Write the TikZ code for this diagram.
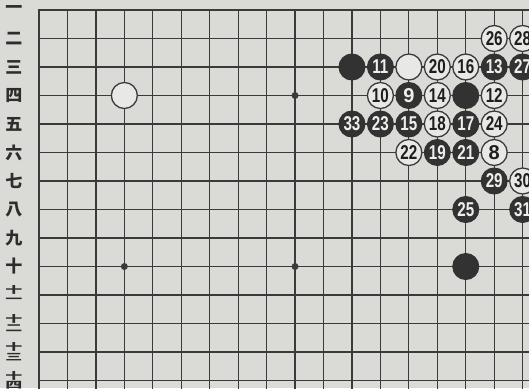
\documentclass[tikz,border=0pt]{standalone}
\usepackage{fontspec}
\usepackage{graphicx}
\setmainfont{Liberation Sans}
\newfontfamily\cjk{Noto Sans CJK JP}
\definecolor{paper}{RGB}{218,218,215}
\definecolor{gridc}{RGB}{58,58,58}
\definecolor{stoneblack}{RGB}{50,50,50}
\definecolor{stonewhite}{RGB}{232,232,230}
\definecolor{stonetext}{RGB}{238,238,236}
\definecolor{numdark}{RGB}{30,30,30}
\definecolor{labc}{RGB}{45,45,45}
\newcommand{\tw}[1]{\scalebox{0.76}[1]{#1}}
\newcommand{\sq}[1]{\scalebox{1}[0.55]{#1}}
\tikzset{
  gridline/.style={draw=gridc,line width=1.25pt},
  borderline/.style={draw=gridc,line width=2.6pt,line cap=rect},
  stonebase/.style={circle,inner sep=0pt,minimum size=26pt,font=\bfseries\fontsize{20}{20}\selectfont},
  bstone/.style={stonebase,fill=stoneblack,draw=stoneblack,line width=1pt,text=stonetext},
  wstone/.style={stonebase,fill=stonewhite,draw=gridc,line width=1.3pt,text=numdark},
  hoshi/.style={circle,fill=gridc,inner sep=0pt,minimum size=7pt},
  rowlab/.style={font=\cjk\bfseries\fontsize{17}{17}\selectfont,text=labc,inner sep=0pt},
}
\begin{document}
\begin{tikzpicture}[x=1pt,y=-1pt]
\path[use as bounding box,fill=paper] (0,0) rectangle (529,388);
\clip (0,0) rectangle (529,388);
% grid: column c at x = 39 + 28.45 c, row r at y = 10 + 28.5 r
\foreach \i in {0,...,18}
  \draw[gridline] ({39+28.45*\i},10) -- ({39+28.45*\i},400);
\foreach \j in {0,...,14}
  \draw[gridline] (39,{10+28.5*\j}) -- (540,{10+28.5*\j});
\draw[borderline] (39,400) -- (39,10) -- (540,10);
\begin{scope}[shift={(39,10)},x=28.45pt,y=-28.5pt]
% star points
\node[hoshi] (h1) at (3,3) {};
\node[hoshi] (h2) at (9,3) {};
\node[hoshi] (h3) at (3,9) {};
\node[hoshi] (h4) at (9,9) {};
% row labels
\foreach \r/\t in {0/一,1/二,2/三,3/四,4/五,5/六,6/七,7/八,8/九,9/十}
  \node[rowlab] (lab\r) at (-0.879,\r) {\t};
\foreach \r/\t in {10/一,11/二,12/三,13/四}{
  \node[rowlab] (labu\r) at (-0.879,\r-0.175) {\sq{十}};
  \node[rowlab] (labl\r) at (-0.879,\r+0.175) {\sq{\t}};
}
% unnumbered stones
\node[bstone] (bA) at (11,2) {};
\node[bstone] (bB) at (15,3) {};
\node[bstone] (bC) at (15,9) {};
\node[wstone] (wA) at (13,2) {};
\node[wstone] (wB) at (3,3) {};
% numbered black stones
\node[bstone] (b9) at (13,3) {9};
\foreach \c/\r/\n in {12/2/11,16/2/13,13/4/15,15/4/17,14/5/19,15/5/21,12/4/23,15/7/25,17/2/27,16/6/29,17/7/31,11/4/33}
  \node[bstone] (b\n) at (\c,\r) {\tw{\n}};
% numbered white stones
\node[wstone] (w8) at (16,5) {8};
\foreach \c/\r/\n in {12/3/10,16/3/12,14/3/14,15/2/16,14/4/18,14/2/20,13/5/22,16/4/24,16/1/26,17/1/28,17/6/30}
  \node[wstone] (w\n) at (\c,\r) {\tw{\n}};
\end{scope}
\end{tikzpicture}
\end{document}
